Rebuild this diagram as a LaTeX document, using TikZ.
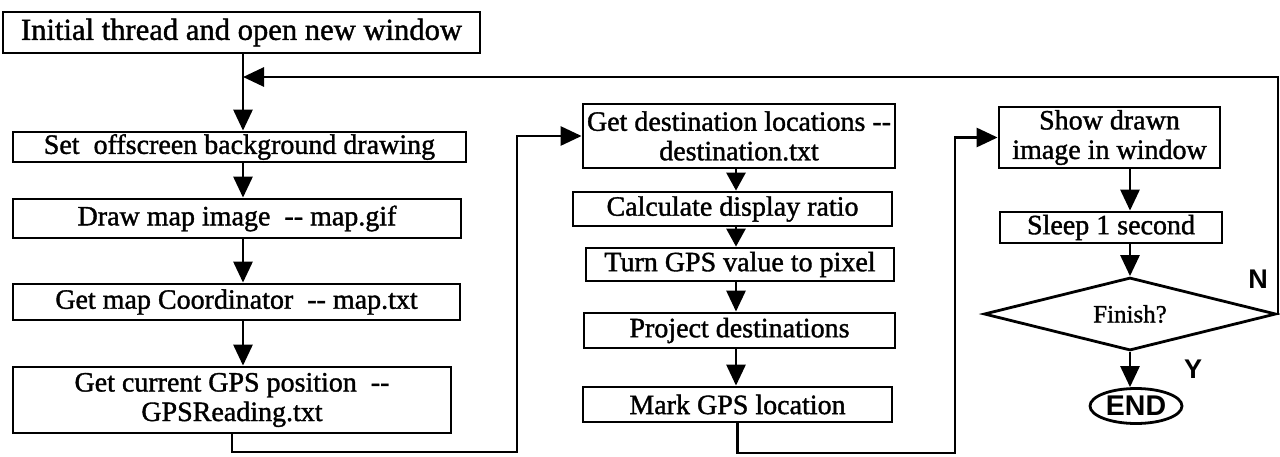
\documentclass[tikz,border=0pt]{standalone}
\usepackage{fontspec}
\setmainfont[FakeBold=1.3]{Liberation Serif}
\newfontfamily\labelsans{Liberation Sans}
\usetikzlibrary{arrows.meta,shapes.geometric}

\begin{document}
\begin{tikzpicture}[x=1pt,y=-1pt,
  box/.style={draw,line width=2.8pt,inner sep=0pt,align=center,
    font=\fontsize{28}{29.5}\selectfont},
  flow/.style={line width=2.8pt,-{Triangle[length=21pt,width=19pt]}},
  shortflow/.style={line width=2.8pt,-{Triangle[length=18pt,width=19pt]}},
  tag/.style={font=\labelsans\bfseries\fontsize{27}{29}\selectfont,inner sep=0pt}]
\useasboundingbox (0,0) rectangle (1280,456);

% left column
\node[box,minimum width=477pt,minimum height=41pt,
  font=\fontsize{30.6}{32}\selectfont] (init) at (241.5,32.5)
  {Initial thread and open new window};
\node[box,minimum width=453pt,minimum height=30pt] (setbg) at (239.5,147)
  {Set\ \ offscreen background drawing};
\node[box,minimum width=448pt,minimum height=39pt] (drawmap) at (237,218.5)
  {Draw map image\ \ -{}- map.gif};
\node[box,minimum width=447pt,minimum height=36pt] (getmap) at (236.5,302)
  {Get map Coordinator\ \ -{}- map.txt};
\node[box,minimum width=438pt,minimum height=66pt] (gps) at (232,400)
  {Get current GPS position\ \ -{}-\\GPSReading.txt};

% middle column
\node[box,minimum width=312pt,minimum height=64pt] (dest) at (739,136)
  {Get destination locations -{}-\\destination.txt};
\node[box,minimum width=319pt,minimum height=34pt] (calc) at (732.5,209)
  {Calculate display ratio};
\node[box,minimum width=308pt,minimum height=33pt] (turn) at (740,264.5)
  {Turn GPS value to pixel};
\node[box,minimum width=311pt,minimum height=35pt] (proj) at (739.5,330.5)
  {Project destinations};
\node[box,minimum width=309pt,minimum height=35pt] (mark) at (737.5,404.5)
  {Mark GPS location};

% right column
\node[box,minimum width=221pt,minimum height=61pt] (show) at (1109.5,137.5)
  {Show drawn\\image in window};
\node[box,minimum width=222pt,minimum height=31pt] (sleep) at (1111,227.5)
  {Sleep 1 second};
\node[draw,diamond,aspect=4,line width=2.8pt,inner sep=0pt,
  minimum width=292pt,minimum height=73pt,
  font=\fontsize{25}{26}\selectfont] (dia) at (1130,314) {Finish?};
\node[draw,ellipse,line width=2.8pt,inner sep=0pt,
  minimum width=92pt,minimum height=35pt,
  font=\labelsans\bfseries\fontsize{28.5}{30}\selectfont] (end) at (1136,406) {END};
\node[tag] (nlab) at (1258,279) {N};
\node[tag] (ylab) at (1193,369) {Y};

% routing points
\coordinate (lc) at (243,0);
\coordinate (mc) at (736,0);
\coordinate (join) at (243,77);
\coordinate (rt) at (1278,77);
\coordinate (lb) at (517,452);
\coordinate (mb) at (955,453);

% left column flow
\draw[flow] (init.south -| lc) -- (setbg.north -| lc);
\draw[flow] (setbg.south -| lc) -- (drawmap.north -| lc);
\draw[flow] (drawmap.south -| lc) -- (getmap.north -| lc);
\draw[flow] (getmap.south -| lc) -- (gps.north -| lc);
\draw[flow] (gps.south) |- (lb) |- (dest.west);

% middle column flow
\draw[shortflow] (dest.south -| mc) -- (calc.north -| mc);
\draw[shortflow] (calc.south -| mc) -- (turn.north -| mc);
\draw[flow] (turn.south -| mc) -- (proj.north -| mc);
\draw[flow] (proj.south -| mc) -- (mark.north -| mc);
\draw[flow] (mark.south) |- (mb) |- (show.west);

% right column flow
\draw[flow] (show.south -| dia.north) -- (sleep.north -| dia.north);
\draw[flow] (sleep.south -| dia.north) -- (dia.north);
\draw[flow] (dia.south) -- (end.north -| dia.south);
\draw[flow] (dia.east) -| (rt) -- (join);
\end{tikzpicture}
\end{document}
